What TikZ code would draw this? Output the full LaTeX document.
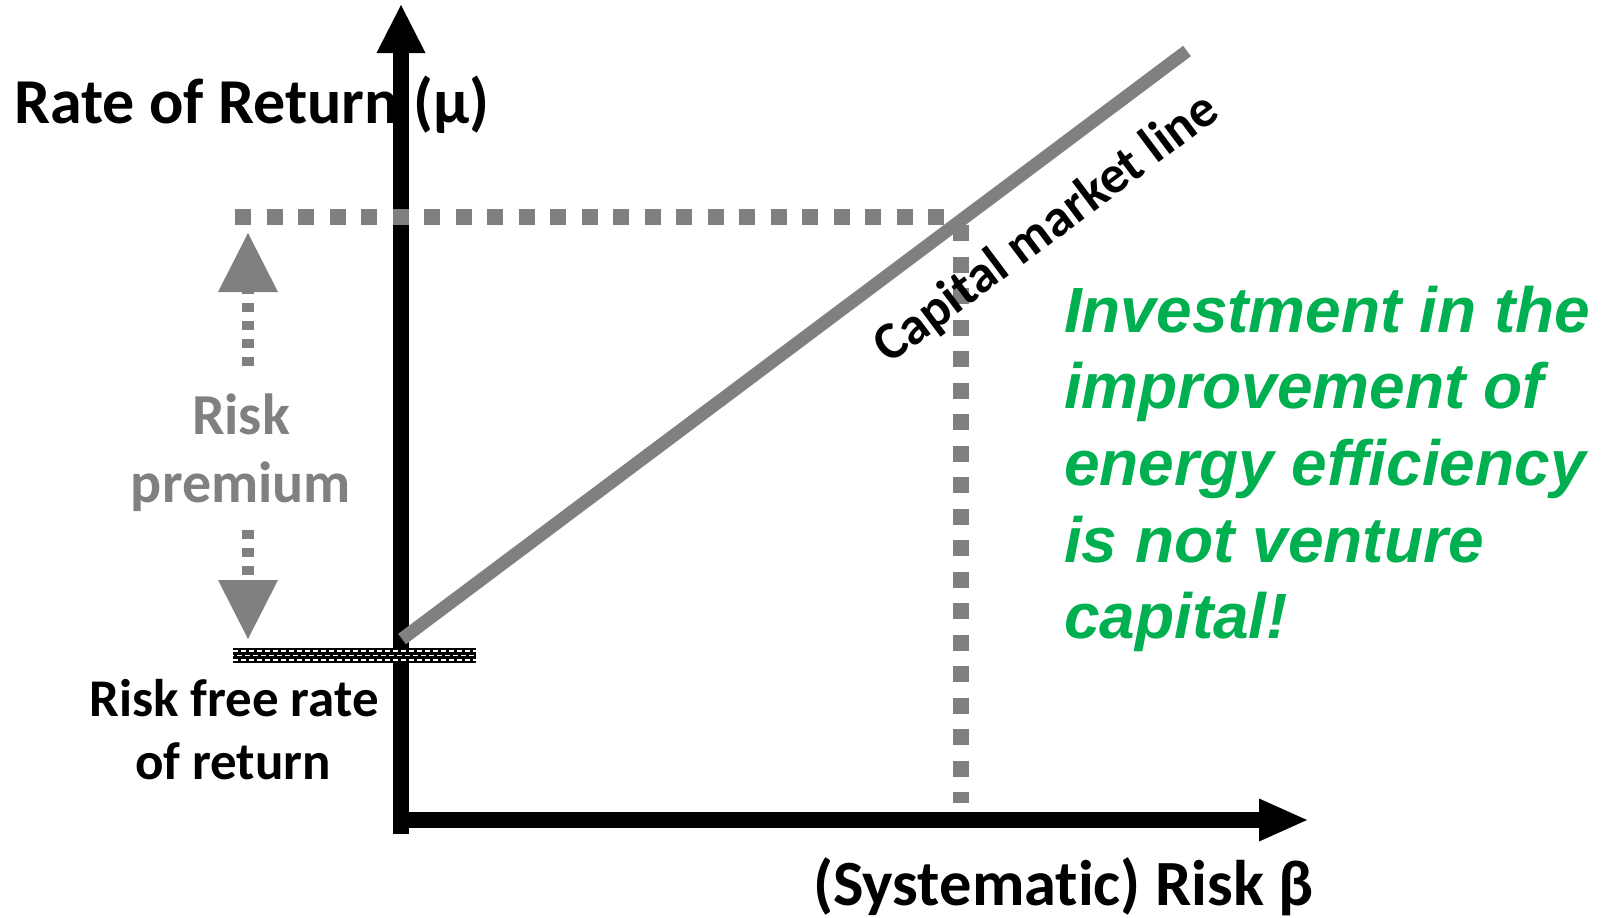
\documentclass[tikz,border=0pt]{standalone}
\usepackage{fontspec}
\setmainfont{Carlito}[Ligatures={NoCommon,NoRare}]
\newfontfamily\notefont{Liberation Sans}[Ligatures={NoCommon}]
\usetikzlibrary{arrows.meta}
\definecolor{linegrey}{RGB}{128,128,128}
\definecolor{notegreen}{RGB}{0,176,80}
\begin{document}
\begin{tikzpicture}[x=1pt,y=-1pt,
  axisline/.style={line width=16pt, black},
  cmlline/.style={line width=13pt, linegrey},
  guide/.style={line width=16pt, linegrey, dash pattern=on 16pt off 15.5pt},
  premiumdots/.style={line width=12pt, linegrey, dash pattern=on 9pt off 9pt},
  txt/.style={inner sep=0pt, outer sep=0pt},
  bigbold/.style={txt, font=\bfseries\fontsize{64}{70}\selectfont},
  midbold/.style={txt, font=\bfseries\fontsize{53}{58}\selectfont},
  premiumtxt/.style={txt, text=linegrey, font=\bfseries\fontsize{58}{62}\selectfont},
  notetxt/.style={txt, text=notegreen, font=\notefont\bfseries\itshape\fontsize{64}{70}\selectfont},
]
\useasboundingbox (0,0) rectangle (1604,918);

% axis end points
\coordinate (ybot) at (401,834);
\coordinate (ytop) at (401,5);
\coordinate (xleft) at (393,820);
\coordinate (xright) at (1307,820);

% axis titles (drawn first so the axis passes over them)
\node[bigbold, anchor=base west] (ytitle) at (14,123) {Rate of Return (μ)};
\node[bigbold, anchor=base west, font=\bfseries\fontsize{64.5}{70}\selectfont] (xtitle) at (813,905) {(Systematic) Risk β};

% axes
\draw[axisline, -{Triangle[width=49pt,length=48pt,line width=0pt]}] (ybot) -- (ytop);
\draw[axisline, -{Triangle[width=43pt,length=48pt,line width=0pt]}] (xleft) -- (xright);

% guide lines to the market point
\coordinate (hguideL) at (235,217);
\coordinate (mkt) at (961,217);
\coordinate (vguideB) at (961,803);
\draw[guide] (hguideL) -- ([xshift=-8pt]mkt);
\draw[guide] ([yshift=-8pt]mkt) -- (vguideB);

% capital market line
\coordinate (cmlA) at (402,639);
\coordinate (cmlB) at (1187,51);
\draw[cmlline] (cmlA) -- (cmlB);
\node[txt, rotate=36.87, font=\bfseries\fontsize{53}{58}\selectfont] (cmltxt) at (1047,229) {Capital market line};

% risk free rate bar
\node[txt, fill=black, minimum width=243pt, minimum height=15pt, anchor=north west] (rfbar) at (233,648) {};
\foreach \dy/\ph in {-4.5/0, 0/4, 4.5/0}
  \draw[white, line width=1.3pt, dash pattern=on 4.5pt off 3.5pt, dash phase=\ph pt]
    ([yshift=\dy pt]rfbar.west) -- ([yshift=\dy pt]rfbar.east);

\node[midbold, anchor=base] (rf1) at (234,716) {Risk free rate};
\node[midbold, anchor=base] (rf2) at (233,779) {of return};

% risk premium
\coordinate (upfrom) at (248,366);
\coordinate (uptip) at (248,233);
\coordinate (dnfrom) at (248,530);
\coordinate (dntip) at (248,639);
\draw[premiumdots, -{Triangle[width=60pt,length=59pt,line width=0pt]}] (upfrom) -- (uptip);
\draw[premiumdots, -{Triangle[width=60pt,length=59pt,line width=0pt]}] (dnfrom) -- (dntip);
\node[premiumtxt, anchor=base] (rp1) at (241,434) {Risk};
\node[premiumtxt, anchor=base] (rp2) at (241,502) {premium};

% note
\node[notetxt, anchor=base west] (n1) at (1064,332) {Investment in the};
\node[notetxt, anchor=base west] (n2) at (1064,408) {improvement of};
\node[notetxt, anchor=base west] (n3) at (1064,485) {energy efficiency};
\node[notetxt, anchor=base west] (n4) at (1064,562) {is not venture};
\node[notetxt, anchor=base west] (n5) at (1064,638) {capital!};
\end{tikzpicture}
\end{document}
